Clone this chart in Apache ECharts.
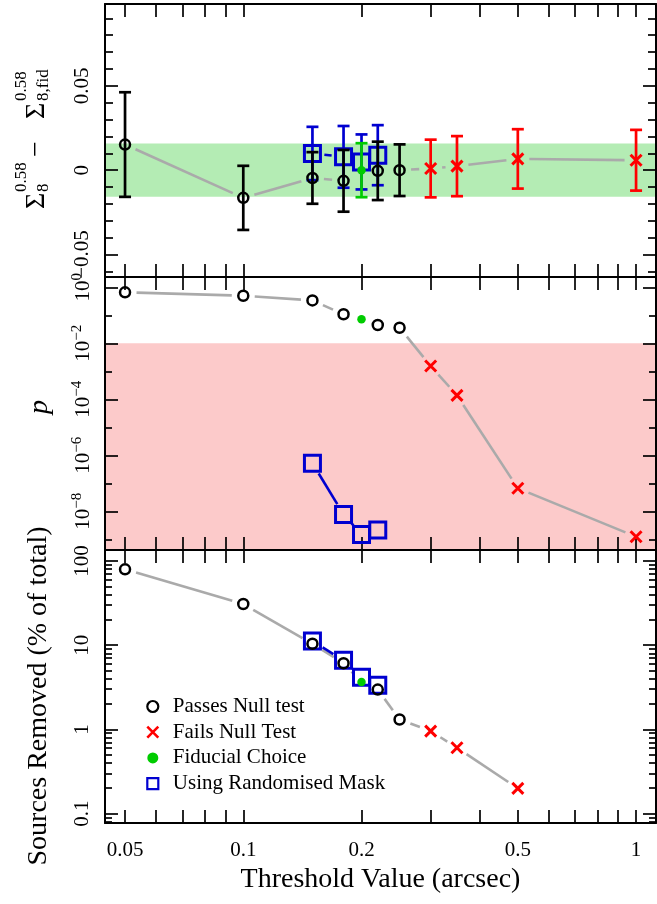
<!DOCTYPE html>
<html><head><meta charset="utf-8">
<script src="https://cdn.jsdelivr.net/npm/echarts@6/dist/echarts.min.js"></script>
<style>html,body{margin:0;padding:0;background:#fff}#c{width:657px;height:904px}</style>
</head><body><div id="c"></div>
<script>
// ---------------- data ----------------
const threshold = [0.05, 0.1, 0.15, 0.18, 0.2, 0.22, 0.25, 0.3, 0.35, 0.5, 1.0];
const nullTest = ['pass','pass','pass','pass','fiducial','pass','pass','fail','fail','fail','fail'];
const deltaSigma8 = [0.0152, -0.0164, -0.0046, -0.0063, 0.0, -0.0004, 0.0, 0.0010, 0.0024, 0.0067, 0.0059];
const deltaSigma8Err = [0.0310, 0.0190, 0.0153, 0.0183, 0.0160, 0.0173, 0.0153, 0.0171, 0.0178, 0.0176, 0.0180];
const pValue = [0.66, 0.50, 0.34, 0.109, 0.072, 0.045, 0.036, 1.55e-3, 1.39e-4, 6.7e-8, 1.24e-9];
const removedPct = [79.6, 30.8, 10.4, 6.1, 3.66, 2.97, 1.31, 0.955, 0.605, 0.199, null];

const randThreshold = [0.15, 0.18, 0.2, 0.22];
const randDeltaSigma8 = [0.0099, 0.0079, 0.0049, 0.0089];
const randDeltaSigma8Err = [0.0158, 0.0183, 0.0163, 0.0178];
const randPValue = [5.2e-7, 7.8e-9, 1.5e-9, 2.15e-9];
const randRemovedPct = [11.2, 6.6, 4.16, 3.34];

const fiducialBand = 0.0158;
const pThreshold = 0.01;

const legendNames = ['Passes Null test', 'Fails Null Test', 'Fiducial Choice', 'Using Randomised Mask'];

// axis ranges and ticks
const xRange = [0.04446, 1.124];
const dsRange = [-0.0633, 0.0985];
const pRange = [4.17e-10, 2.33];
const pctRange = [0.0773, 135];
const xTicks = [0.05,0.06,0.07,0.08,0.09,0.1,0.2,0.3,0.4,0.5,0.6,0.7,0.8,0.9,1];
const xTickLabels = [0.05,0.1,0.2,0.5,1];
const dsMajorTicks = [-0.05, 0, 0.05];
const dsMinorTicks = [-0.06,-0.04,-0.03,-0.02,-0.01,0.01,0.02,0.03,0.04,0.06,0.07,0.08,0.09];
const pMajorTicks = [1, 1e-2, 1e-4, 1e-6, 1e-8];
const pMinorTicks = [1e-1, 1e-3, 1e-5, 1e-7, 1e-9];
const pctMajorTicks = [0.1, 1, 10, 100];
const pctMinorTicks = [0.08,0.09,0.2,0.3,0.4,0.5,0.6,0.7,0.8,0.9,2,3,4,5,6,7,8,9,20,30,40,50,60,70,80,90];

// ---------------- styles ----------------
const FONT = 'Liberation Serif';
const GRAY = '#aaaaaa', BLUE = '#0000d0', RED = '#ff0000', GREEN = '#00cc00', BLACK = '#000000';
const X_PATH = 'path://M0,0L10,10M0,10L10,0';
const SQ_PATH = 'path://M0,0H10V10H0Z';

const chart = echarts.init(document.getElementById('c'), null, {renderer: 'canvas'});

function pts(xs, ys, st, errs) {
  const out = [];
  xs.forEach((x, i) => {
    if ((st == null || nullTest[i] === st) && ys[i] != null) out.push(errs ? [x, ys[i], errs[i]] : [x, ys[i]]);
  });
  return out;
}
function segs(xs, ys) {
  const out = [];
  for (let i = 0; i < xs.length - 1; i++) {
    if (ys[i] != null && ys[i + 1] != null) out.push([xs[i], ys[i], xs[i + 1], ys[i + 1]]);
  }
  return out;
}
function bLineRender(color, width, gap) {
  return function (params, api) {
    const p1 = api.coord([api.value(0), api.value(1)]);
    const p2 = api.coord([api.value(2), api.value(3)]);
    const dx = p2[0] - p1[0], dy = p2[1] - p1[1];
    const L = Math.sqrt(dx * dx + dy * dy);
    if (L <= 2 * gap + 0.5) return null;
    const ux = dx / L, uy = dy / L;
    return {type: 'line', shape: {x1: p1[0] + ux * gap, y1: p1[1] + uy * gap, x2: p2[0] - ux * gap, y2: p2[1] - uy * gap},
      style: {stroke: color, lineWidth: width}};
  };
}
function errRender(color) {
  return function (params, api) {
    const x = api.value(0), y = api.value(1), e = api.value(2);
    const t = api.coord([x, y + e]), b = api.coord([x, y - e]);
    const c = 6, st = {stroke: color, lineWidth: 2.7};
    return {type: 'group', children: [
      {type: 'line', shape: {x1: t[0], y1: t[1], x2: b[0], y2: b[1]}, style: st},
      {type: 'line', shape: {x1: t[0] - c, y1: t[1], x2: t[0] + c, y2: t[1]}, style: st},
      {type: 'line', shape: {x1: b[0] - c, y1: b[1], x2: b[0] + c, y2: b[1]}, style: st}
    ]};
  };
}
function bandRender(color) {
  return function (params, api) {
    const cs = params.coordSys;
    const y1 = api.coord([xRange[0], api.value(0)])[1];
    const y2 = api.coord([xRange[0], api.value(1)])[1];
    const top = Math.max(cs.y, Math.min(y1, y2));
    const bot = Math.min(cs.y + cs.height, Math.max(y1, y2));
    return {type: 'rect', shape: {x: cs.x, y: top, width: cs.width, height: bot - top}, style: {fill: color}};
  };
}

const grids = [
  {left: 105, right: 1, top: 4, height: 273},
  {left: 105, right: 1, top: 277, height: 273},
  {left: 105, right: 1, top: 550, height: 273}
].map(g => Object.assign({outerBoundsMode: 'none', containLabel: false}, g));

const xAxes = [];
const yAxes = [];
const lineSt = {color: BLACK, width: 2};
const tickSt = {color: BLACK, width: 1.7};

for (let g = 0; g < 3; g++) {
  ['bottom', 'top'].forEach(pos => {
    const ax = {
      type: 'log', gridIndex: g, position: pos, min: xRange[0], max: xRange[1],
      axisLine: {show: true, onZero: false, lineStyle: lineSt},
      axisTick: {show: true, inside: true, length: 13, lineStyle: tickSt, customValues: xTicks},
      axisLabel: {show: false},
      splitLine: {show: false}, minorTick: {show: false}, minorSplitLine: {show: false}
    };
    if (g === 2 && pos === 'bottom') {
      ax.axisLabel = {show: true, customValues: xTickLabels, margin: 15, fontFamily: FONT, fontSize: 21, color: BLACK, lineHeight: 24,
        formatter: v => String(Number(Number(v).toPrecision(3)))};
      ax.name = 'Threshold Value (arcsec)';
      ax.nameLocation = 'middle';
      ax.nameGap = 41;
      ax.nameMoveOverlap = false;
      ax.nameTextStyle = {fontFamily: FONT, fontSize: 28, color: BLACK, lineHeight: 32};
    }
    xAxes.push(ax);
  });
}

const yDefs = [
  {type: 'value', range: dsRange, major: dsMajorTicks, minor: dsMinorTicks, minorLen: 8,
    label: {margin: 11, lineHeight: 24,
      formatter: v => { const n = Math.round(v * 100) / 100; return n === 0 ? '0' : (n < 0 ? '\u2212' : '') + Math.abs(n).toFixed(2); }}},
  {type: 'log', range: pRange, major: pMajorTicks, minor: pMinorTicks, minorLen: 7,
    label: {margin: 11,
      formatter: v => { const e = Math.round(Math.log10(v)); return '{b|10}{s|' + (e < 0 ? '\u2212' + (-e) : e) + '}'; },
      rich: {b: {fontFamily: FONT, fontSize: 21, lineHeight: 24, verticalAlign: 'bottom', color: BLACK},
             s: {fontFamily: FONT, fontSize: 15, lineHeight: 15, verticalAlign: 'top', color: BLACK}}}},
  {type: 'log', range: pctRange, major: pctMajorTicks, minor: pctMinorTicks, minorLen: 7,
    label: {margin: 11, lineHeight: 24, formatter: v => String(Number(Number(v).toPrecision(3)))}}
];

yDefs.forEach((d, g) => {
  ['left', 'right'].forEach(pos => {
    yAxes.push({
      type: d.type, gridIndex: g, position: pos, min: d.range[0], max: d.range[1],
      axisLine: {show: true, onZero: false, lineStyle: lineSt},
      axisTick: {show: true, inside: true, length: 13, lineStyle: tickSt, customValues: d.major},
      axisLabel: pos === 'left'
        ? Object.assign({show: true, rotate: 90, customValues: d.major, fontFamily: FONT, fontSize: 21, color: BLACK}, d.label)
        : {show: false},
      splitLine: {show: false}, minorTick: {show: false}, minorSplitLine: {show: false}
    });
    yAxes.push({
      type: d.type, gridIndex: g, position: pos, min: d.range[0], max: d.range[1],
      axisLine: {show: false, onZero: false},
      axisTick: {show: true, inside: true, length: d.minorLen, lineStyle: tickSt, customValues: d.minor},
      axisLabel: {show: false},
      splitLine: {show: false}, minorTick: {show: false}, minorSplitLine: {show: false}
    });
  });
});

function ax(g) { return {xAxisIndex: 2 * g, yAxisIndex: 4 * g}; }

const circleStyle = {symbol: 'circle', symbolSize: 10, itemStyle: {color: 'transparent', borderColor: BLACK, borderWidth: 2.5, opacity: 1}};
const crossStyle = {symbol: X_PATH, symbolSize: 11, itemStyle: {color: RED, borderColor: RED, borderWidth: 3, opacity: 1}};
const dotStyle = {symbol: 'circle', symbolSize: 8.5, itemStyle: {color: GREEN, borderWidth: 0, opacity: 1}};
const squareStyle = {symbol: SQ_PATH, symbolSize: 16, itemStyle: {color: 'transparent', borderColor: BLUE, borderWidth: 3, opacity: 1}};

function scatter(g, name, data, sty, z) {
  return Object.assign({type: 'scatter', name: name, data: data, z: z, silent: true, emphasis: {disabled: true}}, ax(g), sty);
}
function custom(g, name, data, render, encode, z) {
  return Object.assign({type: 'custom', name: name, data: data, z: z, silent: true, renderItem: render, encode: encode}, ax(g));
}
const SEG_ENC = {x: [0, 2], y: [1, 3]};
const ERR_ENC = {x: 0, y: 1};

const series = [];
// ---- panel 1 : delta Sigma8 ----
series.push(custom(0, 'band1', [[-fiducialBand, fiducialBand]], bandRender('#b4ecb4'), {y: [0, 1]}, 0));
series.push(custom(0, 'gray1', segs(threshold, deltaSigma8), bLineRender(GRAY, 2.6, 11.5), SEG_ENC, 1));
series.push(custom(0, 'blueline1', segs(randThreshold, randDeltaSigma8), bLineRender(BLUE, 2.6, 12), SEG_ENC, 2));
series.push(custom(0, 'blueerr1', randThreshold.map((x, i) => [x, randDeltaSigma8[i], randDeltaSigma8Err[i]]), errRender(BLUE), ERR_ENC, 2));
series.push(scatter(0, legendNames[3], randThreshold.map((x, i) => [x, randDeltaSigma8[i]]), squareStyle, 3));
series.push(custom(0, 'blackerr1', pts(threshold, deltaSigma8, 'pass', deltaSigma8Err), errRender(BLACK), ERR_ENC, 4));
series.push(scatter(0, legendNames[0], pts(threshold, deltaSigma8, 'pass'), circleStyle, 5));
series.push(custom(0, 'rederr1', pts(threshold, deltaSigma8, 'fail', deltaSigma8Err), errRender(RED), ERR_ENC, 4));
series.push(scatter(0, legendNames[1], pts(threshold, deltaSigma8, 'fail'), crossStyle, 5));
series.push(custom(0, 'greenerr1', pts(threshold, deltaSigma8, 'fiducial', deltaSigma8Err), errRender(GREEN), ERR_ENC, 6));
series.push(scatter(0, legendNames[2], pts(threshold, deltaSigma8, 'fiducial'), dotStyle, 7));
// ---- panel 2 : p value ----
series.push(custom(1, 'band2', [[pRange[0], pThreshold]], bandRender('#fccaca'), {y: [0, 1]}, 0));
series.push(custom(1, 'gray2', segs(threshold, pValue), bLineRender(GRAY, 2.6, 11.5), SEG_ENC, 1));
series.push(custom(1, 'blueline2', segs(randThreshold, randPValue), bLineRender(BLUE, 2.6, 12), SEG_ENC, 2));
series.push(scatter(1, legendNames[3], randThreshold.map((x, i) => [x, randPValue[i]]), squareStyle, 3));
series.push(scatter(1, legendNames[0], pts(threshold, pValue, 'pass'), circleStyle, 5));
series.push(scatter(1, legendNames[1], pts(threshold, pValue, 'fail'), crossStyle, 5));
series.push(scatter(1, legendNames[2], pts(threshold, pValue, 'fiducial'), dotStyle, 7));
// ---- panel 3 : sources removed ----
series.push(custom(2, 'gray3', segs(threshold, removedPct), bLineRender(GRAY, 2.6, 11.5), SEG_ENC, 1));
series.push(custom(2, 'blueline3', segs(randThreshold, randRemovedPct), bLineRender(BLUE, 2.6, 12), SEG_ENC, 2));
series.push(scatter(2, legendNames[3], randThreshold.map((x, i) => [x, randRemovedPct[i]]), squareStyle, 3));
series.push(scatter(2, legendNames[0], pts(threshold, removedPct, 'pass'), circleStyle, 5));
series.push(scatter(2, legendNames[1], pts(threshold, removedPct, 'fail'), crossStyle, 5));
series.push(scatter(2, legendNames[2], pts(threshold, removedPct, 'fiducial'), dotStyle, 7));

const smallFont = '17px "' + FONT + '"';
const bigFont = '28px "' + FONT + '"';
function gtext(text, x, y, font) {
  return {type: 'text', x: x, y: y, style: {text: text, font: font, fill: BLACK, align: 'left', verticalAlign: 'middle', textAlign: 'left', textVerticalAlign: 'middle'}};
}

const option = {
  animation: false,
  backgroundColor: '#ffffff',
  grid: grids,
  xAxis: xAxes,
  yAxis: yAxes,
  legend: {
    show: true, orient: 'vertical', left: 146, top: 696, itemWidth: 30, itemHeight: 11, itemGap: 4.7,
    selectedMode: false, padding: 0,
    textStyle: {fontFamily: FONT, fontSize: 21, color: BLACK, lineHeight: 21},
    data: [
      {name: legendNames[0], icon: 'circle', itemStyle: {color: 'transparent', borderColor: BLACK, borderWidth: 2.2, opacity: 1}},
      {name: legendNames[1], icon: X_PATH, itemStyle: {color: RED, borderColor: RED, borderWidth: 2.6, opacity: 1}},
      {name: legendNames[2], icon: 'circle', itemStyle: {color: GREEN, borderWidth: 0, opacity: 1}},
      {name: legendNames[3], icon: SQ_PATH, itemStyle: {color: 'transparent', borderColor: BLUE, borderWidth: 2.2, opacity: 1}}
    ]
  },
  graphic: [
    {type: 'group', x: 37, y: 140, rotation: Math.PI / 2, children: [
      gtext('\u03A3', -69, 0, bigFont),
      gtext('0.58', -52, -15, smallFont),
      gtext('8', -52, 7, smallFont),
      gtext('\u2212', -17, 0, bigFont),
      gtext('\u03A3', 21, 0, bigFont),
      gtext('0.58', 39, -15, smallFont),
      gtext('8,fid', 39, 7, smallFont)
    ]},
    {type: 'text', x: 40, y: 407, rotation: Math.PI / 2,
      style: {text: 'p', font: 'italic 28px "' + FONT + '"', fill: BLACK, align: 'center', verticalAlign: 'middle', textAlign: 'center', textVerticalAlign: 'middle'}},
    {type: 'text', x: 39, y: 696, rotation: Math.PI / 2,
      style: {text: 'Sources Removed (% of total)', font: bigFont, fill: BLACK, align: 'center', verticalAlign: 'middle', textAlign: 'center', textVerticalAlign: 'middle'}}
  ],
  series: series
};
chart.setOption(option);
</script>
</body></html>
